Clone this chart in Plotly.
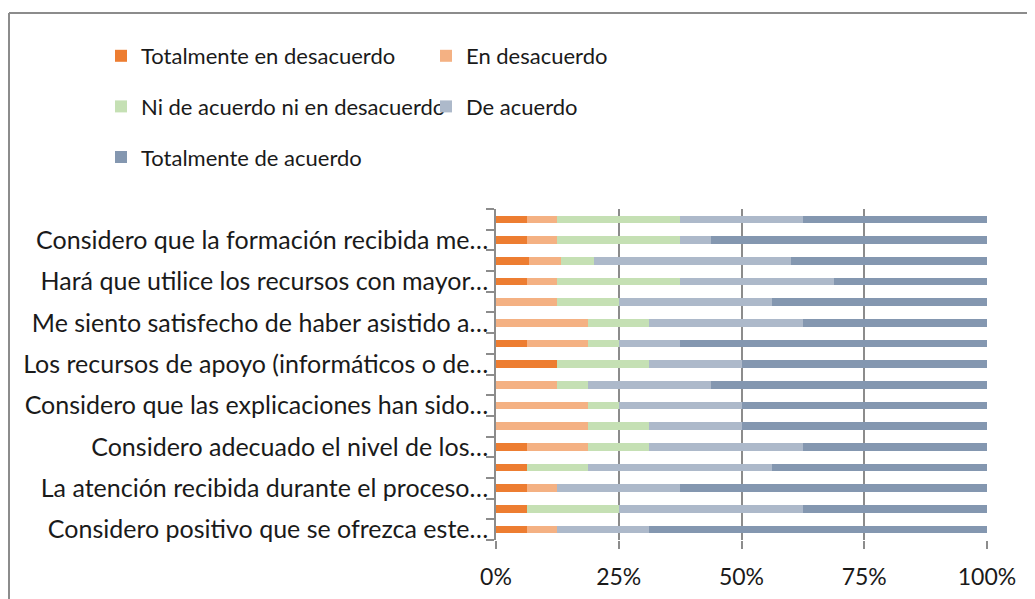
import plotly.graph_objects as go

# ---------------- data ----------------
questions = [
    "",
    "Considero que la formación recibida me…",
    "",
    "Hará que utilice los recursos con mayor…",
    "",
    "Me siento satisfecho de haber asistido a…",
    "",
    "Los recursos de apoyo (informáticos o de…",
    "",
    "Considero que las explicaciones han sido…",
    "",
    "Considero adecuado el nivel de los…",
    "",
    "La atención recibida durante el proceso…",
    "",
    "Considero positivo que se ofrezca este…",
]

series_names = [
    "Totalmente en desacuerdo",
    "En desacuerdo",
    "Ni de acuerdo ni en desacuerdo",
    "De acuerdo",
    "Totalmente de acuerdo",
]

# number of answers per category (top to bottom)
totalmente_desacuerdo = [1, 1, 1, 1, 0, 0, 1, 2, 0, 0, 0, 1, 1, 1, 1, 1]
en_desacuerdo         = [1, 1, 1, 1, 2, 3, 2, 0, 2, 3, 3, 2, 0, 1, 0, 1]
ni_ni                 = [4, 4, 1, 4, 2, 2, 1, 3, 1, 1, 2, 2, 2, 0, 3, 0]
de_acuerdo            = [4, 1, 6, 5, 5, 5, 2, 3, 4, 4, 3, 5, 6, 4, 6, 3]
totalmente_acuerdo    = [6, 9, 6, 5, 7, 6, 10, 8, 9, 8, 8, 6, 7, 10, 6, 11]

values = [totalmente_desacuerdo, en_desacuerdo, ni_ni, de_acuerdo, totalmente_acuerdo]
colors = ["#ED7D31", "#F4B183", "#C5E0B4", "#ADB9CA", "#8497B0"]
legend_of = ["legend", "legend2", "legend", "legend2", "legend"]

FONT = "Lato"
GRID = "#8C8C8C"
TXT = "#1a1a1a"

W, H = 1035, 599
OFF = 8  # page offset of the figure
# plot area in page pixels: x 496..987, y 209..540
ML = 496 - OFF
MT = 209 - OFF
MR = W - (987 - OFF)
MB = H - (540 - OFF)

pos = list(range(len(questions)))

fig = go.Figure()
for name, vals, col, lg in zip(series_names, values, colors, legend_of):
    fig.add_trace(go.Bar(
        y=pos, x=vals, name=name, orientation="h",
        marker=dict(color=col, line=dict(width=0)),
        legend=lg, legendgroup=name,
    ))

tickvals = [i for i, q in enumerate(questions) if q]
ticktext = [q for q in questions if q]
boundaries = [i - 0.5 for i in range(len(questions) + 1)]

pw = W - ML - MR
ph = H - MT - MB
def px_x(p):  # page pixel -> paper
    return (p - OFF - ML) / pw
def px_y(p):
    return (H - MB - (p - OFF)) / ph

legend_common = dict(
    xref="container", yref="container", xanchor="left", yanchor="top",
    orientation="v", traceorder="grouped", tracegroupgap=19,
    bgcolor="rgba(0,0,0,0)", font=dict(family=FONT, size=22, color=TXT),
)

fig.update_layout(
    width=W, height=H,
    margin=dict(l=ML, r=MR, t=MT, b=MB, pad=0, autoexpand=False),
    barmode="stack", barnorm="fraction", bargap=0.63,
    plot_bgcolor="white", paper_bgcolor="white",
    font=dict(family=FONT, size=24, color=TXT),
    xaxis=dict(
        range=[0, 1], tickmode="linear", tick0=0, dtick=0.25, tickformat=".0%",
        showgrid=True, gridcolor=GRID, gridwidth=1.5, zeroline=False,
        showline=False, ticks="outside", ticklen=8, tickcolor=GRID, tickwidth=1.5,
        ticklabelstandoff=8,
        tickfont=dict(family=FONT, size=23, color=TXT), automargin=False,
    ),
    yaxis=dict(
        range=[len(questions) - 0.5, -0.5], tickmode="array",
        tickvals=tickvals, ticktext=ticktext, ticks="", showgrid=False, zeroline=False,
        showline=True, linecolor=GRID, linewidth=1.5,
        ticklabelstandoff=1, automargin=False,
        minor=dict(tickmode="array", tickvals=boundaries, ticks="outside",
                   ticklen=8, tickcolor=GRID, tickwidth=1.5, showgrid=False),
        tickfont=dict(family=FONT, size=25, color=TXT),
    ),
    legend=dict(x=93 / W, y=1 - 27 / H, **legend_common),
    legend2=dict(x=418 / W, y=1 - 27 / H, **legend_common),
    shapes=[
        dict(type="line", xref="paper", yref="paper",
             x0=px_x(9), x1=px_x(9), y0=px_y(13), y1=px_y(H + 30),
             line=dict(color="#8C8C8C", width=2)),
        dict(type="line", xref="paper", yref="paper",
             x0=px_x(9), x1=px_x(W + 30), y0=px_y(13), y1=px_y(13),
             line=dict(color="#8C8C8C", width=2)),
    ],
)

fig.write_html("out.html")
